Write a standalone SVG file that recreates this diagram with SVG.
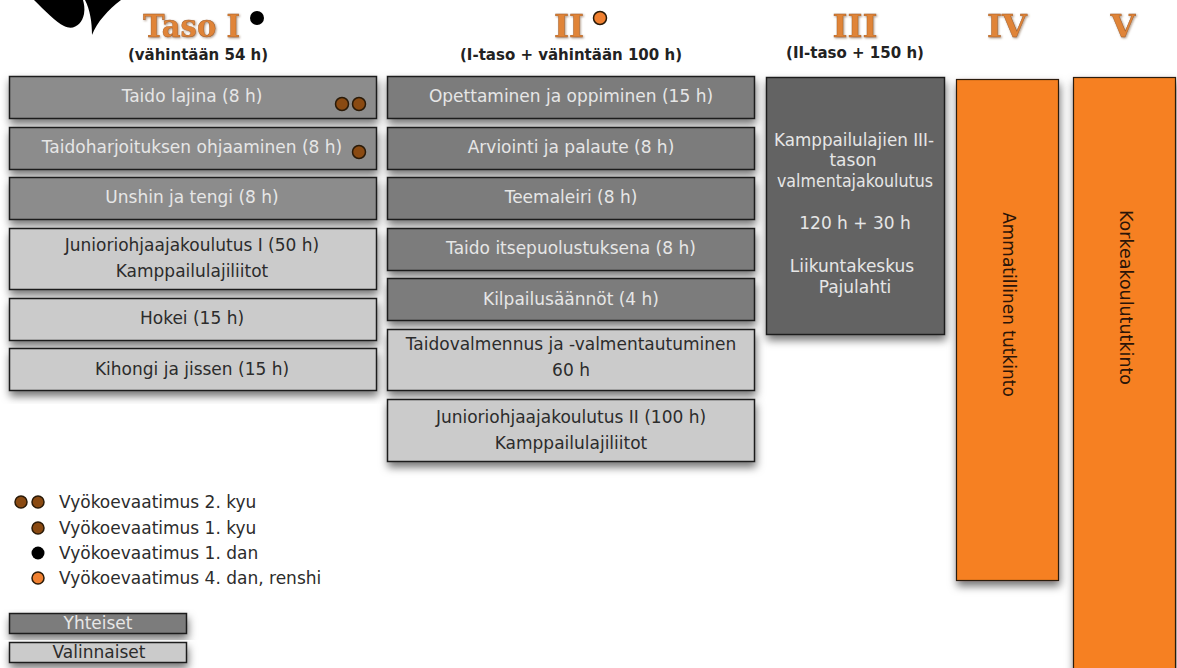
<svg xmlns="http://www.w3.org/2000/svg" width="1177" height="668" viewBox="0 0 1177 668">
<style>
text{font-family:"DejaVu Sans","Liberation Sans",sans-serif;text-anchor:middle}
.box{stroke:#1c1c1c;stroke-width:1.5}
.a{fill:#7b7b7b}.b{fill:#8c8c8c}.c{fill:#cbcbcb}.d{fill:#646464}.o{fill:#f68020;stroke:#2a1a10;stroke-width:1.2}
.lw{fill:#e6e6e6;font-size:17px}.ld{fill:#2c2c2c;font-size:17px}
.h{font-family:"DejaVu Serif",serif;font-weight:bold;font-size:32px;fill:#e08437;stroke:#9a5a28;stroke-width:.4;filter:url(#ts)}
.s{fill:#222;font-weight:bold;font-size:15px;font-family:"DejaVu Sans",sans-serif}
.leg{fill:#2c2c2c;font-size:17px;text-anchor:start}
.dot1{fill:#8a4a12;stroke:#2a1a08;stroke-width:1.5}
.dotk{fill:#000}
.doto{fill:#f08030;stroke:#2a1a08;stroke-width:1.5}
.v{fill:#2a1408;font-size:17px}
</style>
<defs>
<filter id="sh" x="-10%" y="-20%" width="120%" height="150%"><feDropShadow dx="1" dy="5" stdDeviation="4" flood-color="#000" flood-opacity=".55"/></filter>
<filter id="ts" x="-10%" y="-10%" width="120%" height="130%"><feDropShadow dx="1" dy="1" stdDeviation=".8" flood-color="#8a6a50" flood-opacity=".7"/></filter>
</defs>
<rect width="1177" height="668" fill="#fff"/>
<g id="logo"><path d="M34 0C44 10 56 22 64 26C74 31 82 24 84 14C85 8 84 4 83 0ZM92 35C97 22 108 10 121 0L85 0C90 10 92 22 92 35Z" fill="#000"/></g>
<g id="headers">
<text class="h" x="191.500" y="36.500" textLength="97" lengthAdjust="spacingAndGlyphs">Taso I</text>
<circle class="dotk" cx="257" cy="18" r="7"/>
<text class="s" x="198" y="60">(vähintään 54 h)</text>
<text class="h" x="569" y="36.500">II</text>
<circle class="doto" cx="600" cy="18" r="6.5"/>
<text class="s" x="571" y="60">(I-taso + vähintään 100 h)</text>
<text class="h" x="855" y="36.500">III</text>
<text class="s" x="855" y="58">(II-taso + 150 h)</text>
<text class="h" x="1007" y="36.500">IV</text>
<text class="h" x="1123" y="36.500">V</text>
</g>
<g id="taso1">
<g id="n-taido-lajina"><rect class="box b" filter="url(#sh)" x="9.5" y="76.5" width="367" height="42"/><text class="lw" x="192" y="102">Taido lajina (8 h)</text><circle class="dot1" cx="342" cy="104" r="6.5"/><circle class="dot1" cx="359" cy="104" r="6.5"/></g>
<g id="n-ohjaaminen"><rect class="box b" filter="url(#sh)" x="9.5" y="127.5" width="367" height="42"/><text class="lw" x="192" y="153">Taidoharjoituksen ohjaaminen (8 h)</text><circle class="dot1" cx="359" cy="152" r="6.5"/></g>
<g id="n-unshin"><rect class="box b" filter="url(#sh)" x="9.5" y="177.5" width="367" height="42"/><text class="lw" x="192" y="203">Unshin ja tengi (8 h)</text></g>
<g id="n-junior1"><rect class="box c" filter="url(#sh)" x="9.5" y="228.5" width="367" height="61"/><text class="ld" x="192" y="251">Junioriohjaajakoulutus I (50 h)</text><text class="ld" x="192" y="277">Kamppailulajiliitot</text></g>
<g id="n-hokei"><rect class="box c" filter="url(#sh)" x="9.5" y="298.5" width="367" height="42"/><text class="ld" x="192" y="324">Hokei (15 h)</text></g>
<g id="n-kihongi"><rect class="box c" filter="url(#sh)" x="9.5" y="348.5" width="367" height="42"/><text class="ld" x="192" y="375">Kihongi ja jissen (15 h)</text></g>
</g>
<g id="taso2">
<g id="n-opettaminen"><rect class="box a" filter="url(#sh)" x="387.5" y="76.5" width="367" height="42"/><text class="lw" x="571" y="102">Opettaminen ja oppiminen (15 h)</text></g>
<g id="n-arviointi"><rect class="box a" filter="url(#sh)" x="387.5" y="127.5" width="367" height="42"/><text class="lw" x="571" y="153">Arviointi ja palaute (8 h)</text></g>
<g id="n-teemaleiri"><rect class="box a" filter="url(#sh)" x="387.5" y="177.5" width="367" height="42"/><text class="lw" x="571" y="203">Teemaleiri (8 h)</text></g>
<g id="n-itsepuolustus"><rect class="box a" filter="url(#sh)" x="387.5" y="228.5" width="367" height="42"/><text class="lw" x="571" y="254">Taido itsepuolustuksena (8 h)</text></g>
<g id="n-kilpailu"><rect class="box a" filter="url(#sh)" x="387.5" y="278.5" width="367" height="42"/><text class="lw" x="571" y="305">Kilpailusäännöt (4 h)</text></g>
<g id="n-valmennus"><rect class="box c" filter="url(#sh)" x="387.5" y="329.5" width="367" height="61"/><text class="ld" x="571" y="350">Taidovalmennus ja -valmentautuminen</text><text class="ld" x="571" y="376">60 h</text></g>
<g id="n-junior2"><rect class="box c" filter="url(#sh)" x="387.5" y="399.5" width="367" height="62"/><text class="ld" x="571" y="423">Junioriohjaajakoulutus II (100 h)</text><text class="ld" x="571" y="449">Kamppailulajiliitot</text></g>
</g>
<g id="taso3"><rect class="box d" filter="url(#sh)" x="766.5" y="77.5" width="178" height="257"/>
<text class="lw" x="854" y="146" textLength="160" lengthAdjust="spacingAndGlyphs">Kamppailulajien III-</text><text class="lw" x="853" y="166">tason</text><text class="lw" x="855" y="187" textLength="156" lengthAdjust="spacingAndGlyphs">valmentajakoulutus</text>
<text class="lw" x="855" y="229">120 h + 30 h</text><text class="lw" x="852" y="272">Liikuntakeskus</text><text class="lw" x="855" y="293">Pajulahti</text></g>
<g id="taso4"><rect class="o" filter="url(#sh)" x="956.5" y="79.5" width="102" height="501"/><text class="v" transform="translate(1003 304.500) rotate(90)">Ammatillinen tutkinto</text></g>
<g id="taso5"><rect class="o" filter="url(#sh)" x="1073.5" y="77.5" width="102" height="600"/><text class="v" transform="translate(1120 297.500) rotate(90)" textLength="175" lengthAdjust="spacingAndGlyphs">Korkeakoulututkinto</text></g>
<g id="legend">
<circle class="dot1" cx="21" cy="502" r="6"/><circle class="dot1" cx="38" cy="502" r="6"/><text class="leg" x="59" y="508">Vyökoevaatimus 2. kyu</text>
<circle class="dot1" cx="38" cy="528" r="6"/><text class="leg" x="59" y="534">Vyökoevaatimus 1. kyu</text>
<circle class="dotk" cx="38" cy="553" r="6.5"/><text class="leg" x="59" y="559">Vyökoevaatimus 1. dan</text>
<circle class="doto" cx="38" cy="578" r="6"/><text class="leg" x="59" y="584">Vyökoevaatimus 4. dan, renshi</text>
<g id="k-yhteiset"><rect class="box a" filter="url(#sh)" x="9.5" y="613.5" width="177" height="20"/><text class="lw" x="98" y="629">Yhteiset</text></g>
<g id="k-valinnaiset"><rect class="box c" filter="url(#sh)" x="9.5" y="642.5" width="177" height="20"/><text class="ld" x="99" y="658">Valinnaiset</text></g>
</g>
<g id="connectors"/>
</svg>
